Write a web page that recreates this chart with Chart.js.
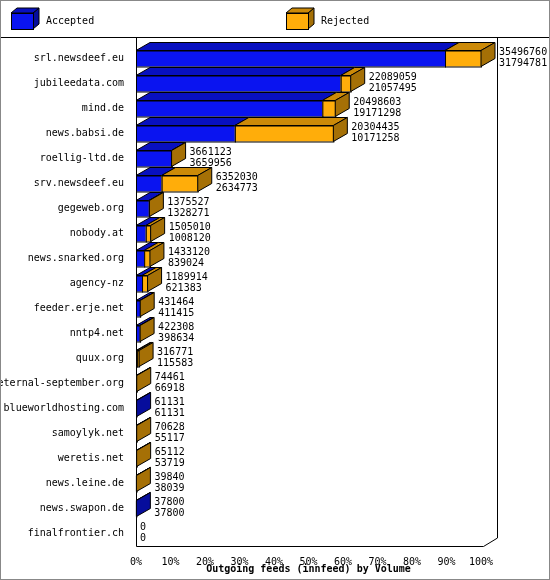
<!DOCTYPE html>
<html><head><meta charset="utf-8">
<script src="https://cdn.jsdelivr.net/npm/chart.js@4/dist/chart.umd.min.js"></script>
<style>body{margin:0;background:#fff}#w{width:548px;height:578px;border:1px solid #888;position:relative}canvas{display:block}</style>
</head><body><div id="w"><canvas id="c" width="548" height="578"></canvas></div>
<script>
const categories=["srl.newsdeef.eu","jubileedata.com","mind.de","news.babsi.de","roellig-ltd.de","srv.newsdeef.eu","gegeweb.org","nobody.at","news.snarked.org","agency-nz","feeder.erje.net","nntp4.net","quux.org","eternal-september.org","blueworldhosting.com","samoylyk.net","weretis.net","news.leine.de","news.swapon.de","finalfrontier.ch"];
const offered=[35496760,22089059,20498603,20304435,3661123,6352030,1375527,1505010,1433120,1189914,431464,422308,316771,74461,61131,70628,65112,39840,37800,0];
const accepted=[31794781,21057495,19171298,10171258,3659956,2634773,1328271,1008120,839024,621383,411415,398634,115583,66918,61131,55117,53719,38039,37800,0];
const xTicks=["0%","10%","20%","30%","40%","50%","60%","70%","80%","90%","100%"];
const maxV=Math.max(...offered);
const accPct=accepted.map(v=>v/maxV*100);
const rejPct=offered.map((v,i)=>(v-accepted[i])/maxV*100);
const DX=14,DY=-8;
const FONT="10px 'DejaVu Sans Mono', monospace";
function shade(c,f){const n=parseInt(c.slice(1),16);let r=(n>>16)&255,g=(n>>8)&255,b=n&255;return `rgb(${r*f|0},${g*f|0},${b*f|0})`;}
const cols=["#0a14f0","#ffad0a"];
const plug={id:'p3d',
 beforeDatasetsDraw(ch){const ctx=ch.ctx,a=ch.chartArea;ctx.save();ctx.strokeStyle='#000';ctx.lineWidth=1;
  ctx.beginPath();ctx.moveTo(a.right+DX+2.5,37);ctx.lineTo(a.right+DX+2.5,a.bottom+DY);ctx.lineTo(a.right+2.5,a.bottom+0.5);ctx.stroke();
  ctx.beginPath();ctx.moveTo(a.left+0.5,37);ctx.lineTo(a.left+0.5,a.bottom+0.5);ctx.lineTo(a.right+2.5,a.bottom+0.5);ctx.stroke();
  ctx.beginPath();ctx.moveTo(0,36.5);ctx.lineTo(548,36.5);ctx.stroke();
  const L=[["Accepted",10],["Rejected",285]];
  L.forEach((l,i)=>{const x=l[1],y=12,w=22,h=16;
   ctx.fillStyle=shade(cols[i],0.65);ctx.beginPath();ctx.moveTo(x+w,y);ctx.lineTo(x+w+6,y-5);ctx.lineTo(x+w+6,y+h-5);ctx.lineTo(x+w,y+h);ctx.closePath();ctx.fill();ctx.stroke();
   ctx.fillStyle=shade(cols[i],0.8);ctx.beginPath();ctx.moveTo(x,y);ctx.lineTo(x+6,y-5);ctx.lineTo(x+w+6,y-5);ctx.lineTo(x+w,y);ctx.closePath();ctx.fill();ctx.stroke();
   ctx.fillStyle=cols[i];ctx.fillRect(x,y,w,h);ctx.strokeRect(x+0.5,y+0.5,w,h);
   ctx.fillStyle='#000';ctx.font=FONT;ctx.textBaseline='middle';ctx.fillText(l[0],x+w+13,y+8);});
  ctx.restore();},
 afterDatasetsDraw(ch){const ctx=ch.ctx;ctx.save();ctx.strokeStyle='#000';ctx.lineWidth=1;
  const m0=ch.getDatasetMeta(0).data,m1=ch.getDatasetMeta(1).data;
  for(let i=0;i<categories.length;i++){
   const segs=[[m0[i],0],[m1[i],1]];let endX=ch.scales.x.getPixelForValue(0),yc=m0[i].y,h=m0[i].height;
   segs.forEach(([e,k])=>{const x0=Math.min(e.base,e.x),x1=Math.max(e.base,e.x);if(x1-x0<0.01)return;endX=Math.max(endX,x1);
    const t=e.y-h/2;
    ctx.fillStyle=cols[k];ctx.fillRect(x0,t,x1-x0,h);
    ctx.fillStyle=shade(cols[k],0.8);ctx.beginPath();ctx.moveTo(x0,t);ctx.lineTo(x0+DX,t+DY);ctx.lineTo(x1+DX,t+DY);ctx.lineTo(x1,t);ctx.closePath();ctx.fill();ctx.stroke();
    ctx.strokeRect(x0+0.5,t+0.5,x1-x0,h);});
   const t=yc-h/2,b=yc+h/2,x0=ch.scales.x.getPixelForValue(0);
   const lastK=rejPct[i]>0?1:0;
   if(offered[i]>0){ctx.fillStyle=shade(cols[lastK],0.65);ctx.beginPath();ctx.moveTo(endX,t);ctx.lineTo(endX+DX,t+DY);ctx.lineTo(endX+DX,b+DY);ctx.lineTo(endX,b);ctx.closePath();ctx.fill();ctx.stroke();}
   ctx.fillStyle='#000';ctx.font=FONT;ctx.textBaseline='middle';ctx.textAlign='left';
   const lx=(offered[i]>0?endX+DX:x0)+4;
   ctx.fillText(String(offered[i]),lx,yc-6);ctx.fillText(String(accepted[i]),lx,yc+5);}
  ctx.restore();}};
new Chart(document.getElementById('c'),{type:'bar',plugins:[plug],
 data:{labels:categories,datasets:[
  {label:'Accepted',data:accPct,backgroundColor:'rgba(0,0,0,0)',barPercentage:0.64,categoryPercentage:1},
  {label:'Rejected',data:rejPct,backgroundColor:'rgba(0,0,0,0)',barPercentage:0.64,categoryPercentage:1}]},
 options:{indexAxis:'y',responsive:false,animation:false,devicePixelRatio:1,
  layout:{padding:{top:45,right:68,left:0,bottom:0}},
  plugins:{legend:{display:false},tooltip:{enabled:false}},
  scales:{
   x:{stacked:true,min:0,max:100,grid:{display:false},border:{display:false},
    afterFit(s){s.height=33;},
    ticks:{stepSize:10,color:'#000',font:{family:"'DejaVu Sans Mono'",size:10},callback:(v,i)=>xTicks[i],maxRotation:0,padding:2},
    title:{display:true,text:'Outgoing feeds (innfeed) by Volume',color:'#000',font:{family:"'DejaVu Sans Mono'",size:10,weight:'bold'},padding:{top:0,bottom:4}}},
   y:{stacked:true,grid:{display:false},border:{display:false},
    afterFit(s){s.width=135;},
    ticks:{color:'#000',font:{family:"'DejaVu Sans Mono'",size:10},padding:4}}}}});
</script></body></html>
